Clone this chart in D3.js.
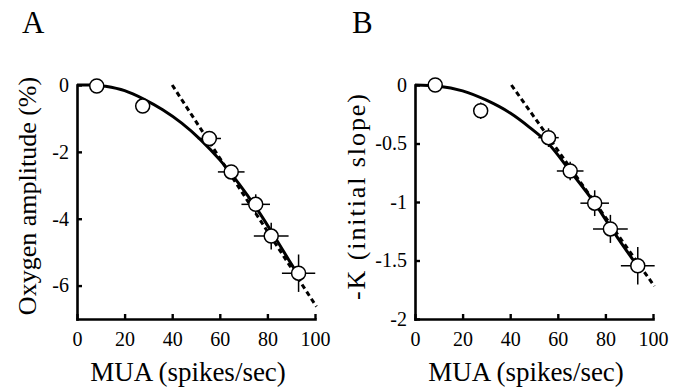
<!DOCTYPE html>
<html>
<head>
<meta charset="utf-8">
<script src="https://cdn.jsdelivr.net/npm/d3@7"></script>
<style>
  body { margin: 0; background: #fff; }
  svg text { font-family: "Liberation Serif", "Times New Roman", Times, "DejaVu Serif", serif; fill: #000; }
</style>
</head>
<body>
<svg id="chart" width="676" height="387"></svg>
<script>
// panel A: oxygen amplitude vs MUA
const muaA = [8.3, 27.6, 55.6, 64.8, 75.1, 81.6, 93.1];
const oxyA = [-0.03, -0.63, -1.6, -2.6, -3.57, -4.52, -5.63];
const muaErrA = [0, 0, 4.9, 5.6, 6.0, 7.3, 7.0];
const oxyErrA = [0, 0, 0.15, 0.15, 0.3, 0.4, 0.56];
const fitXA = [0, 8, 12, 20, 28, 36, 44, 52, 60, 68, 76, 84, 90, 94];
const fitYA = [0, 0, -0.04, -0.17, -0.42, -0.74, -1.14, -1.64, -2.24, -2.95, -3.75, -4.65, -5.35, -5.8];
const lineXA = [40, 100.6];
const lineYA = [0, -6.63];
const yTicksA = [0, -2, -4, -6];

// panel B: -K (initial slope) vs MUA
const muaB = [8.5, 27.6, 56.1, 65.2, 75.5, 82.1, 93.6];
const slopeB = [0, -0.22, -0.45, -0.735, -1.01, -1.23, -1.545];
const muaErrB = [0, 0, 4.3, 5.6, 6.0, 7.3, 7.1];
const slopeErrB = [0, 0.07, 0.08, 0.08, 0.11, 0.12, 0.16];
const fitXB = [0, 10, 20, 30, 40, 48, 56, 65, 75.5, 82, 88, 95];
const fitYB = [0, -0.01, -0.05, -0.13, -0.24, -0.36, -0.5, -0.73, -1.01, -1.21, -1.39, -1.59];
const lineXB = [40.5, 100.6];
const lineYB = [0, -1.72];
const yTicksB = [0, -0.5, -1, -1.5, -2];

const xTicks = [0, 20, 40, 60, 80, 100];

const svg = d3.select('#chart');

function drawPanel(opt) {
  const g = svg.append('g');
  const x = d3.scaleLinear().domain([0, 100]).range([opt.left, opt.left + 238]);
  const y = d3.scaleLinear().domain(opt.yDomain).range([319, 85]);

  // axes
  const xAxis = g.append('g')
    .attr('transform', 'translate(0,319)')
    .call(d3.axisBottom(x).tickValues(xTicks).tickSizeInner(-5).tickSizeOuter(0).tickPadding(13));
  const yAxis = g.append('g')
    .attr('transform', `translate(${opt.left},0)`)
    .call(d3.axisLeft(y).tickValues(opt.yTicks).tickSizeInner(-5).tickSizeOuter(0).tickPadding(8)
      .tickFormat(d => String(d)));
  [xAxis, yAxis].forEach(a => {
    a.attr('font-family', null).attr('font-size', null);
    a.select('.domain').attr('stroke', '#000').attr('stroke-width', 2.6).attr('stroke-linecap', 'square');
    a.selectAll('.tick line').attr('stroke', '#000').attr('stroke-width', 2.4);
    a.selectAll('.tick text').style('font-size', '20px');
  });
  xAxis.selectAll('.tick text').attr('dy', '0.71em');

  // dashed linear fit
  const lineData = opt.lineX.map((v, i) => [v, opt.lineY[i]]);
  g.append('path')
    .attr('d', d3.line().x(d => x(d[0])).y(d => y(d[1]))(lineData))
    .attr('fill', 'none').attr('stroke', '#000')
    .attr('stroke-width', 3).attr('stroke-dasharray', '5,3.5');

  // solid fit curve
  const fitData = opt.fitX.map((v, i) => [v, opt.fitY[i]]);
  g.append('path')
    .attr('d', d3.line().x(d => x(d[0])).y(d => y(d[1])).curve(d3.curveMonotoneX)(fitData))
    .attr('fill', 'none').attr('stroke', '#000').attr('stroke-width', 3);

  const pts = opt.xs.map((v, i) => ({x: v, y: opt.ys[i], ex: opt.exs[i], ey: opt.eys[i]}));

  // error bars
  const eb = g.append('g').attr('stroke', '#000').attr('stroke-width', 1.5);
  eb.selectAll('.ex').data(pts.filter(d => d.ex > 0)).enter().append('line')
    .attr('x1', d => x(d.x - d.ex)).attr('x2', d => x(d.x + d.ex))
    .attr('y1', d => y(d.y)).attr('y2', d => y(d.y));
  eb.selectAll('.ey').data(pts.filter(d => d.ey > 0)).enter().append('line')
    .attr('x1', d => x(d.x)).attr('x2', d => x(d.x))
    .attr('y1', d => y(d.y - d.ey)).attr('y2', d => y(d.y + d.ey));

  // markers
  g.selectAll('circle').data(pts).enter().append('circle')
    .attr('cx', d => x(d.x)).attr('cy', d => y(d.y)).attr('r', 7)
    .attr('fill', '#fff').attr('stroke', '#000').attr('stroke-width', 1.5);

  // titles
  g.append('text')
    .attr('x', opt.left + 111).attr('y', 381)
    .attr('text-anchor', 'middle').style('font-size', '27px')
    .text('MUA (spikes/sec)');
  const yt = g.append('text')
    .attr('transform', `translate(${opt.yTitleX},${opt.yTitleY}) rotate(-90)`)
    .attr('text-anchor', 'middle').style('font-size', '26px')
    .text(opt.yTitle);
  if (opt.yTitleLen) yt.attr('textLength', opt.yTitleLen).attr('lengthAdjust', 'spacing');
  g.append('text')
    .attr('x', opt.letterX).attr('y', 33)
    .style('font-size', '31px')
    .text(opt.letter);
}

drawPanel({
  left: 77, yDomain: [-7, 0], yTicks: yTicksA,
  xs: muaA, ys: oxyA, exs: muaErrA, eys: oxyErrA,
  fitX: fitXA, fitY: fitYA, lineX: lineXA, lineY: lineYA,
  yTitle: 'Oxygen amplitude (%)', yTitleX: 36, yTitleY: 196,
  letter: 'A', letterX: 22
});

drawPanel({
  left: 415, yDomain: [-2, 0], yTicks: yTicksB,
  xs: muaB, ys: slopeB, exs: muaErrB, eys: slopeErrB,
  fitX: fitXB, fitY: fitYB, lineX: lineXB, lineY: lineYB,
  yTitle: '-K (initial slope)', yTitleX: 365, yTitleY: 197, yTitleLen: 206,
  letter: 'B', letterX: 352
});
</script>
</body>
</html>
